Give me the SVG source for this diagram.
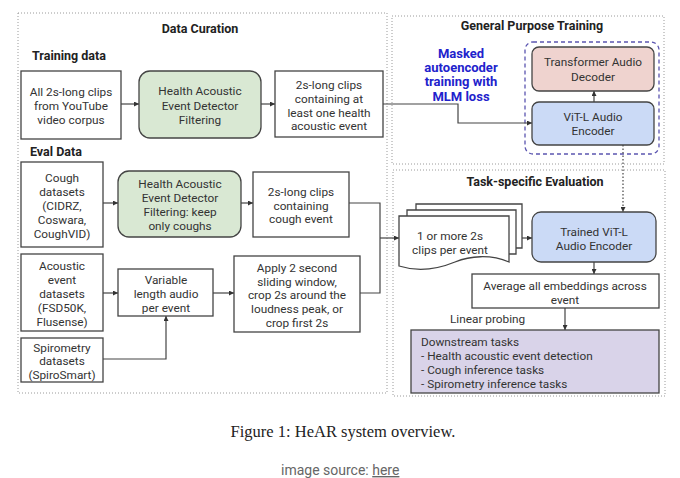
<svg xmlns="http://www.w3.org/2000/svg" width="680" height="478" viewBox="0 0 680 478">
<defs>
<marker id="ah" viewBox="0 0 6 6" refX="6" refY="3" markerWidth="5" markerHeight="5" markerUnits="userSpaceOnUse" orient="auto">
<path d="M0,0 L6,3 L0,6 z" fill="#333"/>
</marker>
<style>
.frame{fill:none;stroke:#9a9a9a;stroke-width:1;stroke-dasharray:1 2}
.box{fill:#fff;stroke:#444;stroke-width:1.3}
.green{fill:#d9e8d3;stroke:#444;stroke-width:1.3}
.pink{fill:#efd3cf;stroke:#444;stroke-width:1.3}
.blue{fill:#cbdaf6;stroke:#444;stroke-width:1.3}
.lav{fill:#d9d3e9;stroke:#444;stroke-width:1.3}
text{font-family:Roboto,"Liberation Sans",sans-serif;font-size:11.8px;fill:#333}
.c{text-anchor:middle}
.t{font-weight:bold;font-size:12.5px;fill:#222}
.bl{font-weight:bold;font-size:13px;fill:#2222cc;text-anchor:middle}
.conn{fill:none;stroke:#444;stroke-width:1.2}
</style>
</defs>

<g id="frames">
<rect class="frame" x="18" y="13" width="369" height="380"/>
<rect class="frame" x="392" y="16" width="272" height="148"/>
<rect class="frame" x="393" y="170" width="272" height="226"/>
<text class="t c" x="200" y="33">Data Curation</text>
<text class="t" x="32" y="60">Training data</text>
<text class="t" x="30" y="156">Eval Data</text>
<text class="t c" x="532" y="30">General Purpose Training</text>
<text class="t c" x="535" y="186">Task-specific Evaluation</text>
<rect x="525" y="42" width="134" height="112" rx="8" fill="none" stroke="#5b55b0" stroke-width="1.3" stroke-dasharray="4 3"/>
<text class="bl" x="461" y="57.5">Masked</text>
<text class="bl" x="461" y="72">autoencoder</text>
<text class="bl" x="461" y="86">training with</text>
<text class="bl" x="461" y="100.5">MLM loss</text>
<text x="450" y="323">Linear probing</text>
</g>

<g id="connectors">
<path class="conn" d="M121,104 H139" marker-end="url(#ah)"/>
<path class="conn" d="M261,104 H275" marker-end="url(#ah)"/>
<path class="conn" d="M383,104 H458 V123 H532" marker-end="url(#ah)"/>
<path class="conn" d="M594,102 V91" marker-end="url(#ah)"/>
<path class="conn" d="M623,145 V212" stroke-dasharray="1.5 2" marker-end="url(#ah)"/>
<path class="conn" d="M103,203 H118" marker-end="url(#ah)"/>
<path class="conn" d="M241,203 H253" marker-end="url(#ah)"/>
<path class="conn" d="M349,203 H380 V293 H360"/>
<path class="conn" d="M380,238 H399" marker-end="url(#ah)"/>
<path class="conn" d="M103,293 H118" marker-end="url(#ah)"/>
<path class="conn" d="M103,359 H166 V316" marker-end="url(#ah)"/>
<path class="conn" d="M213,293 H234" marker-end="url(#ah)"/>
<path class="conn" d="M522,238 H532" marker-end="url(#ah)"/>
<path class="conn" d="M594,262 V274" marker-end="url(#ah)"/>
<path class="conn" d="M565,308 V330" marker-end="url(#ah)"/>
</g>

<g id="n-youtube">
<rect class="box" x="21" y="71" width="100" height="68"/>
<text class="c" x="71" y="95.5">All 2s-long clips</text>
<text class="c" x="71" y="110">from YouTube</text>
<text class="c" x="71" y="123.5">video corpus</text>
</g>
<g id="n-heed1">
<rect class="green" x="139" y="71" width="122" height="67" rx="11"/>
<text class="c" x="200" y="95">Health Acoustic</text>
<text class="c" x="200" y="109.5">Event Detector</text>
<text class="c" x="200" y="123.5">Filtering</text>
</g>
<g id="n-clips1">
<rect class="box" x="275" y="71" width="108" height="66"/>
<text class="c" x="329" y="88.5">2s-long clips</text>
<text class="c" x="329" y="103">containing at</text>
<text class="c" x="329" y="116.5">least one health</text>
<text class="c" x="329" y="130">acoustic event</text>
</g>
<g id="n-decoder">
<rect class="pink" x="532" y="47" width="122" height="44" rx="7"/>
<text class="c" x="593" y="66">Transformer Audio</text>
<text class="c" x="593" y="81">Decoder</text>
</g>
<g id="n-encoder">
<rect class="blue" x="532" y="102" width="122" height="43" rx="7"/>
<text class="c" x="593" y="121">ViT-L Audio</text>
<text class="c" x="593" y="134.5">Encoder</text>
</g>
<g id="n-cough">
<rect class="box" x="21" y="162" width="82" height="85"/>
<text class="c" x="62" y="182">Cough</text>
<text class="c" x="62" y="196">datasets</text>
<text class="c" x="62" y="210">(CIDRZ,</text>
<text class="c" x="62" y="223.5">Coswara,</text>
<text class="c" x="62" y="237.5">CoughVID)</text>
</g>
<g id="n-heed2">
<rect class="green" x="118" y="171" width="123" height="66" rx="11"/>
<text class="c" x="180" y="188">Health Acoustic</text>
<text class="c" x="180" y="201.5">Event Detector</text>
<text class="c" x="180" y="216">Filtering: keep</text>
<text class="c" x="180" y="230">only coughs</text>
</g>
<g id="n-clips2">
<rect class="box" x="253" y="172" width="96" height="65"/>
<text class="c" x="301" y="196">2s-long clips</text>
<text class="c" x="301" y="209.5">containing</text>
<text class="c" x="301" y="223">cough event</text>
</g>
<g id="n-acoustic">
<rect class="box" x="21" y="254" width="82" height="77"/>
<text class="c" x="62" y="269.5">Acoustic</text>
<text class="c" x="62" y="283.5">event</text>
<text class="c" x="62" y="297.5">datasets</text>
<text class="c" x="62" y="311.5">(FSD50K,</text>
<text class="c" x="62" y="326">Flusense)</text>
</g>
<g id="n-spiro">
<rect class="box" x="21" y="338" width="82" height="44"/>
<text class="c" x="62" y="351.5">Spirometry</text>
<text class="c" x="62" y="364.5">datasets</text>
<text class="c" x="62" y="379">(SpiroSmart)</text>
</g>
<g id="n-variable">
<rect class="box" x="118" y="269" width="95" height="47"/>
<text class="c" x="166" y="283.5">Variable</text>
<text class="c" x="166" y="297.5">length audio</text>
<text class="c" x="166" y="311.5">per event</text>
</g>
<g id="n-apply">
<rect class="box" x="234" y="256" width="126" height="76"/>
<text class="c" x="297" y="271.5">Apply 2 second</text>
<text class="c" x="297" y="285.5">sliding window,</text>
<text class="c" x="297" y="298.5">crop 2s around the</text>
<text class="c" x="297" y="312.5">loudness peak, or</text>
<text class="c" x="297" y="326.5">crop first 2s</text>
</g>
<g id="n-docs">
<path class="box" d="M416,210 V204 H522 V248 H516"/>
<path class="box" d="M407,216 V210 H516 V254 H509"/>
<path class="box" d="M399,216 H509 V262 C490,254 470,256 455,262 C438,269 418,272 399,266 Z"/>
<text class="c" x="450" y="240">1 or more 2s</text>
<text class="c" x="450" y="254">clips per event</text>
</g>
<g id="n-trained">
<rect class="blue" x="532" y="212" width="124" height="50" rx="9"/>
<text class="c" x="594" y="235.5">Trained ViT-L</text>
<text class="c" x="594" y="249.5">Audio Encoder</text>
</g>
<g id="n-average">
<rect class="box" x="472" y="274" width="187" height="34"/>
<text class="c" x="565" y="289.5">Average all embeddings across</text>
<text class="c" x="565" y="303.5">event</text>
</g>
<g id="n-downstream">
<rect class="lav" x="411" y="330" width="248" height="63"/>
<text x="421" y="345.5">Downstream tasks</text>
<text x="421" y="359.5">- Health acoustic event detection</text>
<text x="421" y="373.5">- Cough inference tasks</text>
<text x="421" y="387.5">- Spirometry inference tasks</text>
</g>

<g id="caption">
<text x="343" y="437" text-anchor="middle" style="font-family:'Liberation Serif','DejaVu Serif',serif;font-size:16.5px;fill:#222">Figure 1: HeAR system overview.</text>
<text x="281" y="475" style="font-size:14px;fill:#666">image source: <tspan text-decoration="underline">here</tspan></text>
</g>
</svg>
